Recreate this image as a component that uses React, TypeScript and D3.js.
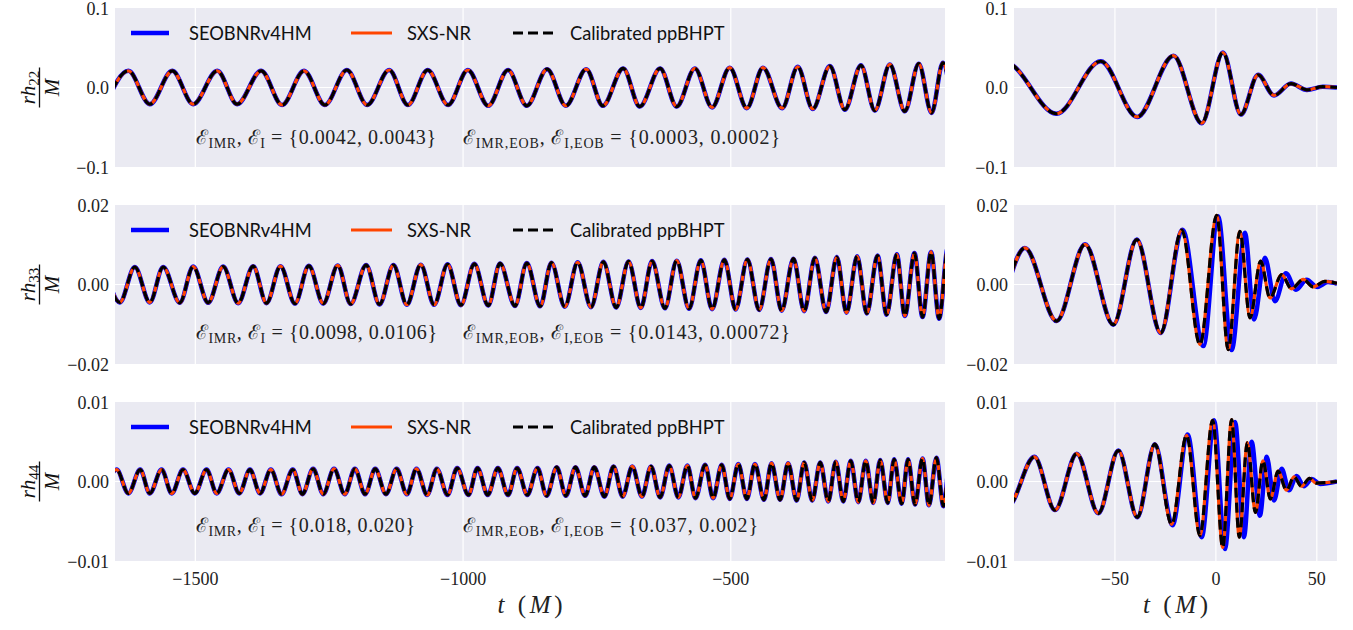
import React from 'react';
import * as d3 from 'd3';

// ---------- data (extrema of each waveform) ----------
const seriesNames = ['SEOBNRv4HM', 'SXS-NR', 'Calibrated ppBHPT'];

// (2,2) mode: [t, r h / M]
const h22: [number, number][] = [
  [-1667, -0.021], [-1625, 0.021], [-1585, -0.021], [-1543, 0.021], [-1504, -0.021],
  [-1459, 0.021], [-1422, -0.021], [-1377, 0.021], [-1338, -0.022], [-1297, 0.021],
  [-1258, -0.022], [-1217, 0.022], [-1179, -0.022], [-1138, 0.022], [-1103, -0.022],
  [-1066, 0.022], [-1028, -0.022], [-991, 0.022], [-953, -0.023], [-916, 0.022],
  [-881, -0.023], [-843, 0.023], [-808, -0.023], [-770, 0.023], [-739, -0.023],
  [-701, 0.024], [-670, -0.024], [-632, 0.024], [-601, -0.024], [-567, 0.024],
  [-535, -0.025], [-502, 0.025], [-470, -0.026], [-440, 0.025], [-404, -0.026],
  [-375, 0.026], [-347, -0.027], [-315, 0.027], [-287, -0.028], [-257, 0.028],
  [-231, -0.029], [-203, 0.029], [-175, -0.030], [-149, 0.030], [-125, -0.032],
  [-104, 0.031], [-79, -0.033], [-57, 0.033], [-39, -0.037], [-21, 0.040],
  [-7, -0.045], [3.5, 0.044], [12.4, -0.034], [20.9, 0.016], [28.8, -0.010],
  [37.2, 0.005], [45.1, -0.003], [53, 0.001], [60, 0],
];

// (3,3) mode
const h33: [number, number][] = [
  [-1669, 0.0044], [-1641, -0.0045], [-1613, 0.0044], [-1585, -0.0045], [-1560, 0.0044],
  [-1529, -0.0046], [-1504, 0.0045], [-1476, -0.0046], [-1448, 0.0045], [-1420, -0.0047],
  [-1392, 0.0046], [-1367, -0.0047], [-1341, 0.0046], [-1314, -0.0048], [-1288, 0.0047],
  [-1261, -0.0048], [-1234, 0.0048], [-1210, -0.0049], [-1181, 0.0049], [-1156, -0.005],
  [-1130, 0.0049], [-1105, -0.0051], [-1079, 0.005], [-1054, -0.0051], [-1029, 0.0051],
  [-1004, -0.0052], [-979, 0.0052], [-953, -0.0053], [-931, 0.0053], [-903, -0.0054],
  [-881, 0.0054], [-856, -0.0055], [-835, 0.0055], [-810, -0.0056], [-786, 0.0056],
  [-761, -0.0057], [-738, 0.0057], [-714, -0.0058], [-691, 0.0058], [-668, -0.0059],
  [-647, 0.0059], [-623, -0.006], [-601, 0.006], [-578, -0.0061], [-556, 0.0061],
  [-535, -0.0062], [-512, 0.0062], [-491, -0.0063], [-469, 0.0063], [-447, -0.0064],
  [-425, 0.0064], [-405, -0.0066], [-383, 0.0065], [-363, -0.0067], [-343, 0.0067],
  [-322, -0.0069], [-302, 0.0069], [-284, -0.0071], [-264, 0.0071], [-246, -0.0073],
  [-226, 0.0073], [-209, -0.0076], [-190, 0.0076], [-175, -0.0079], [-157, 0.0079],
  [-142, -0.0082], [-126, 0.0082], [-111, -0.0086], [-94.6, 0.0092], [-78.9, -0.0092],
  [-64.8, 0.0101], [-50.8, -0.0101], [-39.2, 0.0113], [-27.3, -0.0122], [-16.9, 0.0137],
  [-7.9, -0.0151], [0.4, 0.0174], [6.1, -0.0164], [11.9, 0.0134], [16.9, -0.0084],
  [22.2, 0.0059], [26.8, -0.0034], [32.6, 0.0025], [37.5, -0.0011], [43.3, 0.0013],
  [48.2, -0.0006], [54.0, 0.0008], [60, 0.0003],
];

// (4,4) mode
const h44: [number, number][] = [
  [-1669, -0.0015], [-1647, 0.0015], [-1625, -0.0015], [-1603, 0.0015], [-1585, -0.0015],
  [-1563, 0.0015], [-1544, -0.0015], [-1523, 0.0015], [-1501, -0.0015], [-1479, 0.0015],
  [-1460, -0.0015], [-1438, 0.0015], [-1418, -0.0015], [-1398, 0.0015], [-1379, -0.0015],
  [-1359, 0.0015], [-1339, -0.0016], [-1318, 0.0015], [-1300, -0.0016], [-1280, 0.0016],
  [-1261, -0.0016], [-1241, 0.0016], [-1221, -0.0016], [-1202, 0.0016], [-1183, -0.0016],
  [-1164, 0.0016], [-1144, -0.0016], [-1124, 0.0016], [-1105, -0.0016], [-1087, 0.0016],
  [-1067, -0.0017], [-1049, 0.0016], [-1029, -0.0017], [-1011, 0.0017], [-990, -0.0017],
  [-973, 0.0017], [-954, -0.0017], [-935, 0.0017], [-916, -0.0017], [-899, 0.0017],
  [-880, -0.0017], [-861, 0.0017], [-844, -0.0018], [-825, 0.0018], [-808, -0.0018],
  [-790, 0.0018], [-772, -0.0018], [-755, 0.0018], [-736, -0.0019], [-719, 0.0019],
  [-702, -0.0019], [-684, 0.0019], [-666, -0.0019], [-649, 0.0019], [-632, -0.002],
  [-615, 0.002], [-598, -0.002], [-581, 0.002], [-566, -0.0021], [-548, 0.0021],
  [-533, -0.0021], [-517, 0.0021], [-502, -0.0022], [-486, 0.0022], [-470, -0.0022],
  [-455, 0.0022], [-438, -0.0023], [-424, 0.0023], [-408, -0.0023], [-393, 0.0023],
  [-377, -0.0024], [-363, 0.0024], [-348, -0.0024], [-333, 0.0024], [-318, -0.0025],
  [-304, 0.0025], [-290, -0.0025], [-276, 0.0026], [-262, -0.0026], [-248, 0.0026],
  [-234, -0.0027], [-221, 0.0027], [-207, -0.0027], [-195, 0.0028], [-181, -0.0028],
  [-169, 0.0028], [-156, -0.0029], [-142, 0.0029], [-130, -0.003], [-116, 0.003],
  [-103, -0.0031], [-89.9, 0.0031], [-79.7, -0.0036], [-68.9, 0.0035], [-58.2, -0.004],
  [-48.3, 0.0039], [-38.9, -0.0045], [-30.2, 0.0047], [-21.9, -0.0054], [-14.5, 0.0058],
  [-7.9, -0.0068], [-1.6, 0.0077], [3.4, -0.0083], [7.8, 0.0078], [11.6, -0.007],
  [15.6, 0.0049], [19.6, -0.0039], [23.3, 0.0026], [27.0, -0.0022], [30.8, 0.0013],
  [35.0, -0.0011], [38.7, 0.0006], [42.4, -0.0006], [46.4, 0.0004], [49.6, -0.0002],
  [60, 0],
];

// SEOBNRv4HM extrema where it departs from NR (merger / ringdown)
const eob33Merger: [number, number][] = [
  [-16.5, 0.0138], [-6.2, -0.0155], [1.1, 0.0172], [7.8, -0.0165], [14.4, 0.013],
  [18.9, -0.0088], [24.3, 0.0067], [29.3, -0.0042], [34.7, 0.0028], [39.7, -0.0013],
  [45.0, 0.0012], [50.1, -0.0006], [55.5, 0.0006], [60, 0.0002],
];
const eob44Merger: [number, number][] = [
  [-21.5, -0.0055], [-14.0, 0.0059], [-7.0, -0.007], [-0.9, 0.0077], [4.5, -0.0085],
  [9.5, 0.0075], [13.9, -0.007], [17.7, 0.005], [21.8, -0.0043], [25.2, 0.0031],
  [28.8, -0.0024], [32.6, 0.0016], [36.2, -0.0011], [40.0, 0.0007], [43.6, -0.0006],
  [47.5, 0.0003], [51.6, -0.0003], [60, 0],
];

const modeSubs = ['22', '33', '44'];
const yLimits = [0.1, 0.02, 0.01];
const yDecimals = [1, 2, 2];
const leftXTicks = [-1500, -1000, -500];
const rightXTicks = [-50, 0, 50];
const errIMR = [['0.0042', '0.0043'], ['0.0098', '0.0106'], ['0.018', '0.020']];
const errEOB = [['0.0003', '0.0002'], ['0.0143', '0.00072'], ['0.037', '0.002']];

// ---------- layout ----------
const W = 1353, H = 630;
const LEFT = { x0: 115, x1: 945, dom: [-1650, -100] };
const RIGHT = { x0: 1014, x1: 1337, dom: [-100, 60] };
const rowTops = [8, 205, 402];
const rowH = 159;
const BG = '#EAEAF2';
const BLUE = '#0000FF';
const ORANGE = '#FF4500';
const SERIF = "'Liberation Serif', 'DejaVu Serif', serif";
const SANS = "Lato, 'Open Sans', 'DejaVu Sans', sans-serif";
const annBase = [144, 339, 532];
const ann1W = [240, 241, 219];
const ann2W = [317, 327, 295];

export default function App() {
  const rows = [h22, h33, h44].map((nr, i) => {
    const merge = i === 1 ? eob33Merger : i === 2 ? eob44Merger : null;
    const eob = merge ? nr.filter((d) => d[0] < merge[0][0]).concat(merge) : nr;
    return { nr, eob, i };
  });

  const panel = (row: any, side: any, sideKey: string) => {
    const i = row.i;
    const top = rowTops[i];
    const x = d3.scaleLinear().domain(side.dom).range([side.x0, side.x1]);
    const y = d3.scaleLinear().domain([-yLimits[i], yLimits[i]]).range([top + rowH, top]);
    const line = d3
      .line<[number, number]>()
      .x((d) => x(d[0]))
      .y((d) => y(d[1]))
      .curve(d3.curveMonotoneX);
    const xt = sideKey === 'L' ? leftXTicks : rightXTicks;
    const yt = [-yLimits[i], 0, yLimits[i]];
    const fmt = d3.format(`.${yDecimals[i]}f`);
    const clipId = `clip-${i}-${sideKey}`;
    const labelX = side.x0 - 6;
    return (
      <g key={clipId}>
        <defs>
          <clipPath id={clipId}>
            <rect x={side.x0} y={top} width={side.x1 - side.x0} height={rowH} />
          </clipPath>
        </defs>
        <rect x={side.x0} y={top} width={side.x1 - side.x0} height={rowH} fill={BG} />
        {xt.map((t) => (
          <line key={'gx' + t} x1={x(t)} x2={x(t)} y1={top} y2={top + rowH} stroke="#fff" strokeWidth={1.2} />
        ))}
        <line x1={side.x0} x2={side.x1} y1={y(0)} y2={y(0)} stroke="#fff" strokeWidth={1.2} />
        <g clipPath={`url(#${clipId})`}>
          <path d={line(row.eob) || ''} fill="none" stroke={BLUE} strokeWidth={4.5} strokeLinejoin="round" />
          <path d={line(row.nr) || ''} fill="none" stroke={ORANGE} strokeWidth={3.2} strokeLinejoin="round" />
          <path d={line(row.nr) || ''} fill="none" stroke="#000" strokeWidth={3.2} strokeDasharray="10,5" />
        </g>
        {yt.map((v) => (
          <text key={'yl' + v} x={labelX} y={y(v) + 6.5} textAnchor="end" fontFamily={SERIF} fontSize={18} fill="#222">
            {fmt(v)}
          </text>
        ))}
        {i === 2 &&
          xt.map((t) => (
            <text key={'xl' + t} x={x(t)} y={585} textAnchor="middle" fontFamily={SERIF} fontSize={18} fill="#222">
              {d3.format('d')(t)}
            </text>
          ))}
        {i === 2 && (
          <text x={(side.x0 + side.x1) / 2} y={613} textAnchor="middle" fontFamily={SERIF} fontSize={25} fill="#222" textLength={65}>
            <tspan fontStyle="italic">t</tspan>
            <tspan> (</tspan>
            <tspan fontStyle="italic">M</tspan>
            <tspan>)</tspan>
          </text>
        )}
      </g>
    );
  };

  const legend = (i: number) => {
    const ly = rowTops[i] + 25;
    const items = [
      { x0: 131, x1: 169, tx: 189, stroke: BLUE, w: 4.5, dash: undefined },
      { x0: 351, x1: 392, tx: 407, stroke: ORANGE, w: 3, dash: undefined },
      { x0: 513, x1: 553, tx: 570, stroke: '#000', w: 3.2, dash: '10,5' },
    ];
    return (
      <g key={'leg' + i}>
        {items.map((it, k) => (
          <g key={k}>
            <line x1={it.x0} x2={it.x1} y1={ly} y2={ly} stroke={it.stroke} strokeWidth={it.w} strokeDasharray={it.dash} />
            <text x={it.tx} y={ly + 7} fontFamily={SANS} fontSize={18.3} fill="#111">
              {seriesNames[k]}
            </text>
          </g>
        ))}
      </g>
    );
  };

  const annotations = (i: number) => {
    const by = annBase[i];
    return (
      <g key={'ann' + i} fontFamily={SERIF} fill="#222">
        <text x={196} y={by} fontSize={20} textLength={ann1W[i]}>
          <tspan>ℰ</tspan>
          <tspan fontSize={14} dy={4}>IMR</tspan>
          <tspan dy={-4}>, ℰ</tspan>
          <tspan fontSize={14} dy={4}>I</tspan>
          <tspan dy={-4}>{` = {${errIMR[i][0]}, ${errIMR[i][1]}}`}</tspan>
        </text>
        <text x={463} y={by} fontSize={20} textLength={ann2W[i]}>
          <tspan>ℰ</tspan>
          <tspan fontSize={14} dy={4}>IMR,EOB</tspan>
          <tspan dy={-4}>, ℰ</tspan>
          <tspan fontSize={14} dy={4}>I,EOB</tspan>
          <tspan dy={-4}>{` = {${errEOB[i][0]}, ${errEOB[i][1]}}`}</tspan>
        </text>
      </g>
    );
  };

  const yLabel = (i: number) => (
    <g key={'ylab' + i} transform={`translate(39.5, ${rowTops[i] + rowH / 2}) rotate(-90)`} fontFamily={SERIF} fill="#111">
      <text y={-5} textAnchor="middle" fontSize={21}>
        <tspan fontStyle="italic">rh</tspan>
        <tspan fontSize={15} dy={4}>{modeSubs[i]}</tspan>
      </text>
      <line x1={-20} x2={20} y1={0} y2={0} stroke="#111" strokeWidth={1.3} />
      <text y={19} textAnchor="middle" fontSize={21} fontStyle="italic">
        M
      </text>
    </g>
  );

  return (
    <svg width={W} height={H} style={{ position: 'absolute', left: 0, top: 0, background: '#fff' }}>
      {rows.map((row) => panel(row, LEFT, 'L'))}
      {rows.map((row) => panel(row, RIGHT, 'R'))}
      {[0, 1, 2].map(legend)}
      {[0, 1, 2].map(annotations)}
      {[0, 1, 2].map(yLabel)}
    </svg>
  );
}
